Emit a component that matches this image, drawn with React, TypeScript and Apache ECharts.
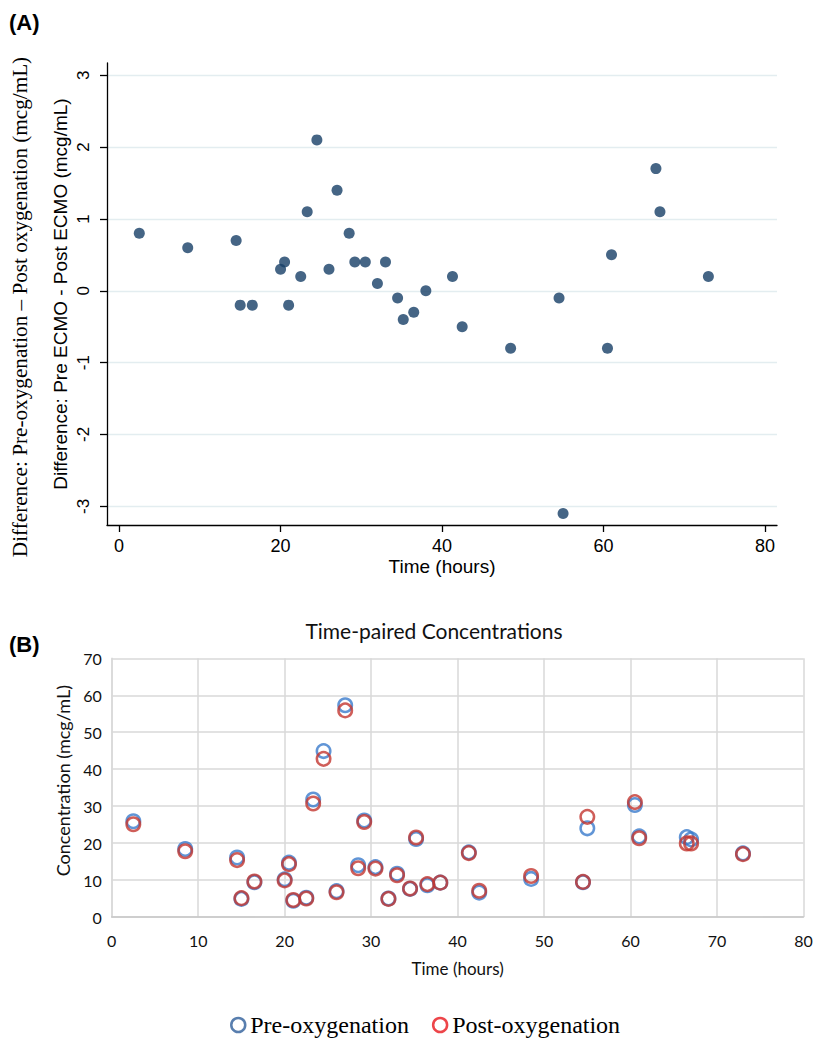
import React, { useEffect, useRef } from "react";
import * as echarts from "echarts";

// ---- data ----
const timeHours = [2.5, 8.5, 14.5, 15, 16.5, 20, 20.5, 21, 22.5, 23.3, 24.5, 26, 27, 28.5, 29.2, 30.5, 32, 33, 34.5, 35.2, 36.5, 38, 41.3, 42.5, 48.5, 54.5, 55, 60.5, 61, 66.5, 67, 73];
const difference = [0.8, 0.6, 0.7, -0.2, -0.2, 0.3, 0.4, -0.2, 0.2, 1.1, 2.1, 0.3, 1.4, 0.8, 0.4, 0.4, 0.1, 0.4, -0.1, -0.4, -0.3, 0.0, 0.2, -0.5, -0.8, -0.1, -3.1, -0.8, 0.5, 1.7, 1.1, 0.2];
const preOxygenation = [25.9, 18.4, 16.1, 4.9, 9.4, 10.2, 14.7, 4.4, 5.2, 31.8, 44.9, 7.0, 57.3, 14.0, 26.1, 13.5, 5.0, 11.7, 7.6, 21.1, 8.6, 9.3, 17.5, 6.6, 10.3, 9.4, 24.0, 30.3, 21.8, 21.6, 21.0, 17.2];
const postOxygenation = [25.1, 17.8, 15.4, 5.1, 9.6, 9.9, 14.3, 4.6, 5.0, 30.7, 42.8, 6.7, 55.9, 13.2, 25.7, 13.1, 4.9, 11.3, 7.7, 21.5, 8.9, 9.3, 17.3, 7.1, 11.1, 9.5, 27.1, 31.1, 21.3, 19.9, 19.9, 17.0];
const xTicksA = [0, 20, 40, 60, 80];
const yTicksA = [-3, -2, -1, 0, 1, 2, 3];

const SANS = "'Liberation Sans', Arial, sans-serif";
const SERIF = "'Liberation Serif', 'Times New Roman', serif";
const CAL = "Lato, sans-serif";

export default function App() {
  const ref = useRef<HTMLDivElement>(null);
  useEffect(() => {
    if (!ref.current) return;
    const chart = echarts.init(ref.current, null, { renderer: "svg" });
    const pairs = (xs: number[], ys: number[]) => xs.map((x, i) => [x, ys[i]]);
    const option: any = {
      animation: false,
      backgroundColor: "#fff",
      title: {
        text: "Time-paired Concentrations",
        left: 434,
        top: 620,
        textAlign: "center",
        padding: 0,
        textStyle: { fontFamily: CAL, fontSize: 21, fontWeight: "normal", color: "#111" },
      },
      legend: {
        left: 225,
        top: 1008,
        itemWidth: 14,
        itemHeight: 14,
        itemGap: 23,
        icon: "circle",
        textStyle: { fontFamily: SERIF, fontSize: 24, color: "#000" },
        data: [
          { name: "Pre-oxygenation", itemStyle: { color: "#fff", borderColor: "#2e5e9a", borderWidth: 2.5 } },
          { name: "Post-oxygenation", itemStyle: { color: "#fff", borderColor: "#e8161b", borderWidth: 2.5 } },
        ],
      },
      grid: [
        { left: 107, top: 63, width: 670, height: 462, outerBoundsMode: "none" },
        { left: 111.7, top: 658.3, width: 691.8, height: 258.7, outerBoundsMode: "none" },
      ],
      xAxis: [
        {
          gridIndex: 0,
          type: "value",
          min: -1.5,
          max: 81.5,
          axisLine: { show: true, onZero: false, lineStyle: { color: "#000", width: 1.3 } },
          axisTick: { show: true, length: 7, customValues: xTicksA, lineStyle: { color: "#000", width: 1.3 } },
          axisLabel: { customValues: xTicksA, margin: 12, fontSize: 18, fontFamily: SANS, color: "#000" },
          splitLine: { show: false },
          name: "Time (hours)",
          nameLocation: "middle",
          nameGap: 32,
          nameMoveOverlap: false,
          nameTextStyle: { fontSize: 19, fontFamily: SANS, color: "#000" },
        },
        {
          gridIndex: 1,
          type: "value",
          min: 0,
          max: 80,
          interval: 10,
          axisLine: { show: true, onZero: false, lineStyle: { color: "#c8c8c8", width: 1.5 } },
          axisTick: { show: false },
          axisLabel: { margin: 15, fontSize: 16, fontFamily: CAL, color: "#111" },
          splitLine: { show: true, lineStyle: { color: "#d9d9d9", width: 1.5 } },
          name: "Time (hours)",
          nameLocation: "middle",
          nameGap: 43,
          nameMoveOverlap: false,
          nameTextStyle: { fontSize: 17, fontFamily: CAL, color: "#111" },
        },
      ],
      yAxis: [
        {
          gridIndex: 0,
          type: "value",
          min: -3.26,
          max: 3.17,
          axisLine: { show: true, onZero: false, lineStyle: { color: "#000", width: 1.3 } },
          axisTick: { show: true, length: 7, customValues: yTicksA, lineStyle: { color: "#000", width: 1.3 } },
          axisLabel: { customValues: yTicksA, rotate: 90, margin: 15, fontSize: 17, fontFamily: SANS, color: "#000" },
          splitLine: { show: true, lineStyle: { color: "#e3edf0", width: 1.3 } },
          name: "Difference: Pre ECMO - Post ECMO (mcg/mL)",
          nameLocation: "middle",
          nameGap: 37,
          nameMoveOverlap: false,
          nameTextStyle: { fontSize: 19, fontFamily: SANS, color: "#000" },
        },
        {
          gridIndex: 1,
          type: "value",
          min: 0,
          max: 70,
          interval: 10,
          axisLine: { show: true, lineStyle: { color: "#d9d9d9", width: 1.5 } },
          axisTick: { show: false },
          axisLabel: { margin: 10, fontSize: 16, fontFamily: CAL, color: "#111" },
          splitLine: { show: true, lineStyle: { color: "#d9d9d9", width: 1.5 } },
          name: "Concentration (mcg/mL)",
          nameLocation: "middle",
          nameGap: 40,
          nameMoveOverlap: false,
          nameTextStyle: { fontSize: 18, fontFamily: CAL, color: "#111", padding: [0, 0, 0, 14] },
        },
      ],
      graphic: [
        { type: "text", left: 9, top: 11, style: { text: "(A)", fontFamily: SANS, fontWeight: "bold", fontSize: 22, fill: "#000" } },
        { type: "text", left: 9, top: 633, style: { text: "(B)", fontFamily: SANS, fontWeight: "bold", fontSize: 22, fill: "#000" } },
        {
          type: "text",
          x: 20,
          y: 307,
          rotation: Math.PI / 2,
          style: {
            text: "Difference: Pre-oxygenation \u2013 Post oxygenation (mcg/mL)",
            fontFamily: SERIF,
            fontSize: 21.2,
            fill: "#000",
            align: "center",
            verticalAlign: "middle",
          },
        },
      ],
      series: [
        {
          name: "Difference",
          type: "scatter",
          xAxisIndex: 0,
          yAxisIndex: 0,
          symbol: "circle",
          symbolSize: 11,
          itemStyle: { color: "#163f66" },
          data: pairs(timeHours, difference),
        },
        {
          name: "Pre-oxygenation",
          type: "scatter",
          xAxisIndex: 1,
          yAxisIndex: 1,
          symbol: "circle",
          symbolSize: 13.5,
          itemStyle: { color: "rgba(0,0,0,0)", borderColor: "#3a7bcc", borderWidth: 2.5 },
          data: pairs(timeHours, preOxygenation),
        },
        {
          name: "Post-oxygenation",
          type: "scatter",
          xAxisIndex: 1,
          yAxisIndex: 1,
          symbol: "circle",
          symbolSize: 13.5,
          itemStyle: { color: "rgba(0,0,0,0)", borderColor: "#c3362f", borderWidth: 2.5 },
          data: pairs(timeHours, postOxygenation),
        },
      ],
    };
    chart.setOption(option);
    return () => chart.dispose();
  }, []);
  return (
    <div
      ref={ref}
      style={{ position: "absolute", left: 0, top: 0, width: 819, height: 1050, background: "#fff" }}
    />
  );
}
